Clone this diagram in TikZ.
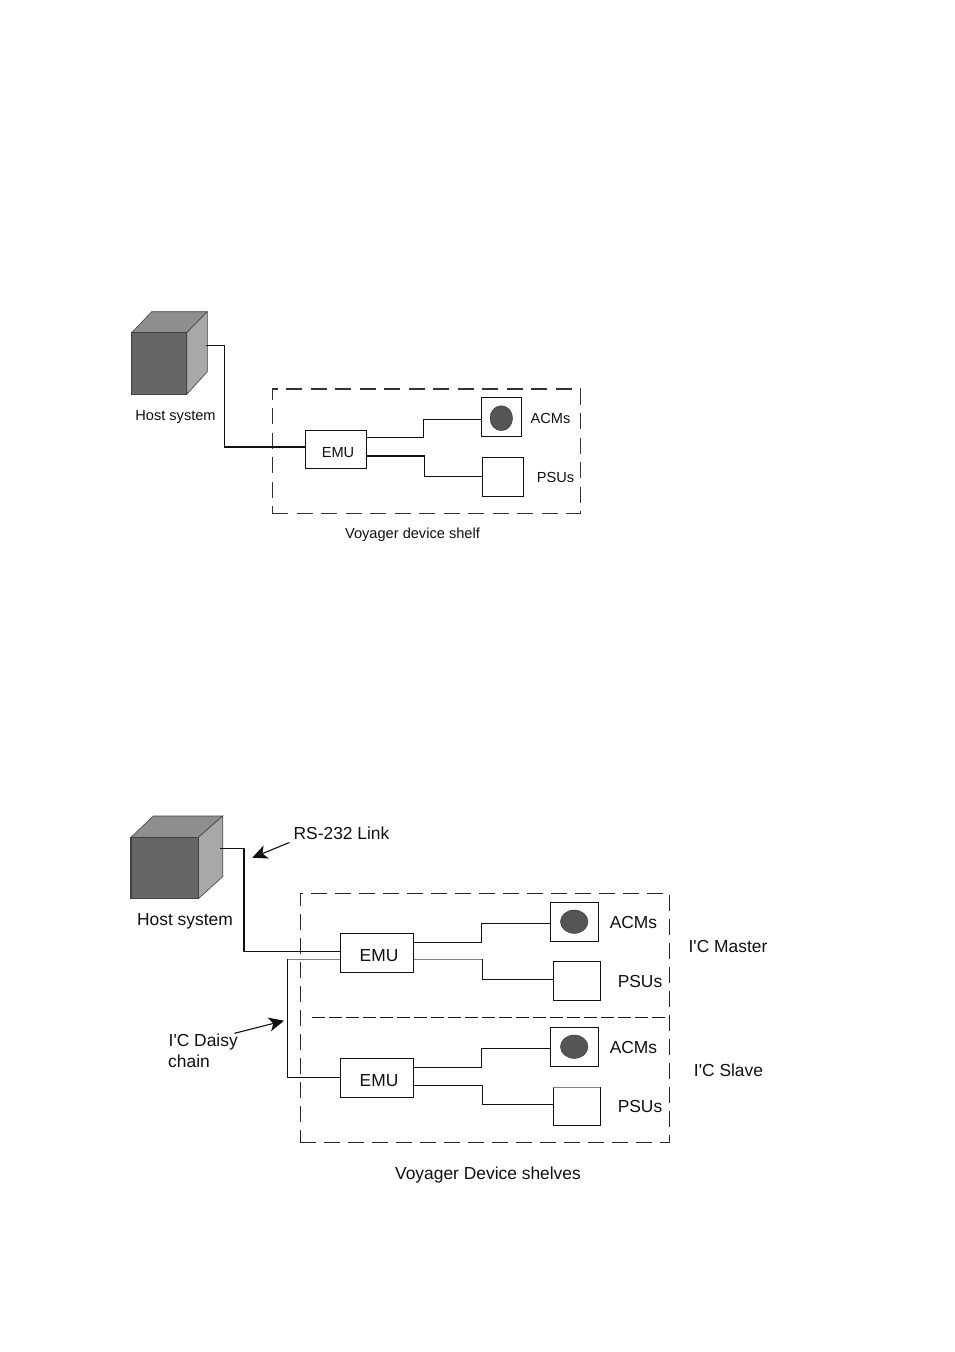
\documentclass[tikz,border=0pt]{standalone}
\usepackage{fontspec}
\setmainfont{Liberation Sans}
\usetikzlibrary{arrows.meta,shapes.geometric}
\definecolor{cubefront}{HTML}{666666}
\definecolor{cubetop}{HTML}{8E8E8E}
\definecolor{cubeside}{HTML}{A8A8A8}
\definecolor{blobfill}{HTML}{555555}
\definecolor{inkc}{HTML}{101010}
\tikzset{
  px/.style={x=1pt,y=-1pt},
  box/.style={draw=inkc,line width=1.1pt,fill=white,inner sep=0pt,outer sep=0pt},
  wire/.style={draw=inkc,line width=1.1pt},
  graywire/.style={draw=black!50,line width=1.1pt},
  shelfA/.style={draw=black!80,line width=1.2pt,dash pattern=on 16pt off 8.5pt,inner sep=0pt,outer sep=0pt},
  shelfB/.style={draw=black!85,line width=1.1pt,dash pattern=on 16pt off 8pt,inner sep=0pt,outer sep=0pt},
  blob/.style={ellipse,draw=black!80,fill=blobfill,inner sep=0pt,outer sep=0pt},
  txtA/.style={font=\fontsize{14.6}{16}\selectfont,text=inkc,inner sep=0pt},
  txtB/.style={font=\fontsize{17.4}{20}\selectfont,text=inkc,inner sep=0pt},
  note/.style={draw=inkc,line width=1.1pt,-{Stealth[length=15pt,width=14pt,inset=4pt]}},
}
\begin{document}
\begin{tikzpicture}[px]
\useasboundingbox (0,0) rectangle (954,1352);
\fill[white] (0,0) rectangle (954,1352);
% ---------- upper figure
\coordinate (a1) at (131.7,332.7);
\coordinate (a2) at (186.7,332.7);
\coordinate (a3) at (186.7,394.3);
\coordinate (a4) at (151.7,311.7);
\coordinate (a5) at (207.3,311.7);
\coordinate (a6) at (207.3,371.7);
\filldraw[fill=cubetop,draw=black!75,line width=.6pt] (a1) -- (a4) -- (a5) -- (a2) -- cycle;
\filldraw[fill=cubeside,draw=black!75,line width=.6pt] (a2) -- (a5) -- (a6) -- (a3) -- cycle;
\node[box,fill=cubefront,draw=black!75,minimum width=55pt,minimum height=61.6pt] (hostA) at (159.2,363.5) {};
\node[shelfA,minimum width=308pt,minimum height=124.3pt] (shelfA) at (426.3,451.2) {};
\node[box,minimum width=61.4pt,minimum height=38.3pt] (emuA) at (336,449.2) {};
\node[box,minimum width=40pt,minimum height=39pt] (acmA) at (501.7,417.2) {};
\node[blob,minimum width=22.6pt,minimum height=25pt] (blobA) at (501.3,418.2) {};
\node[box,minimum width=40.3pt,minimum height=39pt] (psuA) at (502.9,477.2) {};
\draw[wire] ([xshift=19.5pt,yshift=18.2pt]hostA.east) -- ++(18.5,0) |- ([yshift=2.2pt]emuA.west);
\draw[wire] ([yshift=11.5pt]emuA.east) -- ++(56.6,0) |- ([yshift=-2.1pt]acmA.west);
\draw[wire] ([yshift=-6.8pt]emuA.east) -- ++(58,0) |- ([yshift=.5pt]psuA.west);
\node[txtA] (hostAt) at (175.5,416.5) {Host system};
\node[txtA] (emuAt) at (338,453) {EMU};
\node[txtA] (acmAt) at (550.5,418) {ACMs};
\node[txtA] (psuAt) at (555.5,477) {PSUs};
\node[txtA] (shelfAt) at (412.5,534.5) {Voyager device shelf};
% ---------- lower figure
\coordinate (b1) at (131,837.3);
\coordinate (b2) at (198.3,837.3);
\coordinate (b3) at (198.3,898.7);
\coordinate (b4) at (153.3,816);
\coordinate (b5) at (222.7,816);
\coordinate (b6) at (222.7,876.7);
\filldraw[fill=cubetop,draw=black!75,line width=.6pt] (b1) -- (b4) -- (b5) -- (b2) -- cycle;
\filldraw[fill=cubeside,draw=black!75,line width=.6pt] (b2) -- (b5) -- (b6) -- (b3) -- cycle;
\node[box,fill=cubefront,draw=black!75,minimum width=67.3pt,minimum height=61.4pt] (hostB) at (164.65,868) {};
\node[shelfB,minimum width=369pt,minimum height=249pt] (shelfB) at (484.8,1017.8) {};
\draw[draw=black!90,line width=1.4pt,dash pattern=on 13pt off 4pt] (311.7,1017.7) -- (669.3,1017.7);
\node[box,minimum width=73.4pt,minimum height=39pt] (emuB) at (377,952.8) {};
\node[box,minimum width=73.4pt,minimum height=38.7pt] (emuC) at (377,1077.7) {};
\node[box,minimum width=47.6pt,minimum height=39pt] (acmB) at (574.5,921.8) {};
\node[box,minimum width=47.6pt,minimum height=38.7pt] (acmC) at (574.5,1046.7) {};
\node[blob,minimum width=27.6pt,minimum height=23.4pt] (blobB) at (574.2,921.7) {};
\node[blob,minimum width=27.6pt,minimum height=23.4pt] (blobC) at (574.2,1046.7) {};
\node[box,minimum width=47pt,minimum height=39pt] (psuB) at (576.8,980.8) {};
\node[box,minimum width=47pt,minimum height=38pt] (psuC) at (576.8,1106.3) {};
\draw[graywire] (psuC.north west) -- (psuC.north east);
\draw[wire] ([xshift=21.7pt,yshift=19.7pt]hostB.east) -- ++(24,0) |- ([yshift=1.1pt]emuB.west);
\coordinate (daisyTop) at (287.3,959.3);
\coordinate (psuTurn) at (482.7,959.3);
\draw[graywire] ([yshift=-6.5pt]emuB.west) -- (daisyTop);
\draw[wire] (daisyTop) |- (emuC.west);
\draw[wire] ([yshift=10.5pt]emuB.east) -- ++(68,0) |- ([yshift=-1.5pt]acmB.west);
\draw[graywire] ([yshift=-6.5pt]emuB.east) -- (psuTurn);
\draw[wire] (psuTurn) |- ([yshift=1.5pt]psuB.west);
\draw[wire] ([yshift=10.4pt]emuC.east) -- ++(68,0) |- ([yshift=-1.6pt]acmC.west);
\draw[wire] ([yshift=-7.6pt]emuC.east) -- ++(69,0) |- ([yshift=2pt]psuC.west);
\coordinate (rsEnd) at (252.3,857.7);
\coordinate (dcEnd) at (284,1020.7);
\node[txtB] (rsT) at (341.5,833) {RS-232 Link};
\node[txtB] (hostBt) at (185,921) {Host system};
\node[txtB] (emuBt) at (379,955.5) {EMU};
\node[txtB] (emuCt) at (379,1081) {EMU};
\node[txtB] (acmBt) at (633.5,922.5) {ACMs};
\node[txtB] (acmCt) at (633.5,1047.5) {ACMs};
\node[txtB] (psuBt) at (640,981) {PSUs};
\node[txtB] (psuCt) at (640,1106) {PSUs};
\node[txtB] (mastT) at (728,946) {I\textquotesingle C Master};
\node[txtB] (slavT) at (728.5,1070) {I\textquotesingle C Slave};
\node[txtB,anchor=west] (dcT) at (168.5,1042) {I\textquotesingle C Daisy};
\node[txtB,anchor=west] (chT) at (168,1061) {chain};
\node[txtB] (shelfBt) at (488,1175) {Voyager Device shelves};
\draw[note] ([xshift=-4pt,yshift=-9.5pt]rsT.west) -- (rsEnd);
\draw[note] ([xshift=66pt,yshift=8.7pt]dcT.west) -- (dcEnd);
\end{tikzpicture}
\end{document}
